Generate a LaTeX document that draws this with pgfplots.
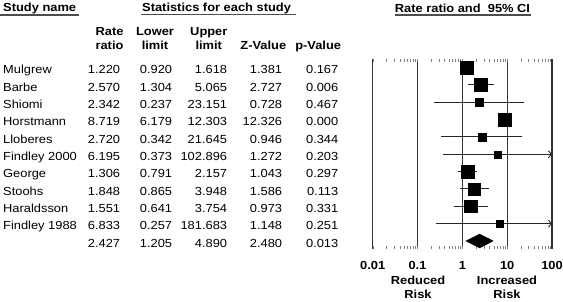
\documentclass[border=0pt]{standalone}
\usepackage{pgfplots}
\pgfplotsset{compat=1.18}
\usepackage{pgfplotstable}
\usepackage{fontspec}
\setmainfont[FakeStretch=1.1]{Liberation Sans}
\usetikzlibrary{arrows.meta}
\newcommand{\fs}{\fontsize{11.7}{14}\selectfont}

\pgfplotstableread{
idx name rr lo up z p w
1 Mulgrew 1.220 0.920 1.618 1.381 0.167 6.5
2 Barbe 2.570 1.304 5.065 2.727 0.006 6.2
3 Shiomi 2.342 0.237 23.151 0.728 0.467 4.0
4 Horstmann 8.719 6.179 12.303 12.326 0.000 6.5
5 Lloberes 2.720 0.342 21.645 0.946 0.344 4.1
6 {Findley 2000} 6.195 0.373 102.896 1.272 0.203 3.5
7 George 1.306 0.791 2.157 1.043 0.297 6.5
8 Stoohs 1.848 0.865 3.948 1.586 0.113 6.2
9 Haraldsson 1.551 0.641 3.754 0.973 0.331 6.2
10 {Findley 1988} 6.833 0.257 181.683 1.148 0.251 3.3
11 {} 2.427 1.205 4.890 2.480 0.013 0
}\studies

% confidence intervals (lower, upper) of the studies with both limits inside the axis
\pgfplotstableread{
x y
0.920 1
1.618 1
nan nan
1.304 2
5.065 2
nan nan
0.237 3
23.151 3
nan nan
6.179 4
12.303 4
nan nan
0.342 5
21.645 5
nan nan
0.791 7
2.157 7
nan nan
0.865 8
3.948 8
nan nan
0.641 9
3.754 9
}\ci

\begin{document}
\begin{tikzpicture}[every node/.append style={font=\fs}]
\path[use as bounding box] (0,0) rectangle (563pt,301pt);

% ---------- table part ----------
\begin{axis}[name=tab, at={(0pt,0pt)}, anchor=south west, scale only axis,
  width=563pt, height=301pt, xmin=0, xmax=563, ymin=0, ymax=301,
  y dir=reverse, hide axis, clip=false]
\pgfplotsset{colnode/.style={draw=none, mark=none, nodes near coords,
  point meta=explicit symbolic,
  nodes near coords style={anchor=base #1, inner sep=0pt, font=\fs, text=black}}}
\addplot[colnode=west] table[x expr=3, y expr={73.7+17.33*(\thisrow{idx}-1)}, meta=name]{\studies};
\addplot[colnode=east] table[x expr=120.3, y expr={73.7+17.33*(\thisrow{idx}-1)}, meta=rr]{\studies};
\addplot[colnode=east] table[x expr=172.3, y expr={73.7+17.33*(\thisrow{idx}-1)}, meta=lo]{\studies};
\addplot[colnode=east] table[x expr=227.3, y expr={73.7+17.33*(\thisrow{idx}-1)}, meta=up]{\studies};
\addplot[colnode=east] table[x expr=282.3, y expr={73.7+17.33*(\thisrow{idx}-1)}, meta=z]{\studies};
\addplot[colnode=east] table[x expr=338.5, y expr={73.7+17.33*(\thisrow{idx}-1)}, meta=p]{\studies};

% headers
\node[anchor=base west, inner sep=0pt] at (axis cs:3,11) {\bfseries Study name};
\node[anchor=base west, inner sep=0pt] at (axis cs:142,11) {\bfseries Statistics for each study};
\node[anchor=base, inner sep=0pt] at (axis cs:462.5,12) {\bfseries Rate ratio and\ \ 95\% CI};
\draw[black!70, line width=1.2pt] (axis cs:0,15) -- (axis cs:79,15);
\draw[black!70, line width=1.2pt] (axis cs:141,14.5) -- (axis cs:296,14.5);
\draw[black!70, line width=1.2pt] (axis cs:395,15) -- (axis cs:531,15);

\node[anchor=base, inner sep=0pt] at (axis cs:109.5,35.5) {\bfseries Rate};
\node[anchor=base, inner sep=0pt] at (axis cs:109.5,49) {\bfseries ratio};
\node[anchor=base, inner sep=0pt] at (axis cs:155,35.5) {\bfseries Lower};
\node[anchor=base, inner sep=0pt] at (axis cs:155,49) {\bfseries limit};
\node[anchor=base, inner sep=0pt] at (axis cs:208.8,35.5) {\bfseries Upper};
\node[anchor=base, inner sep=0pt] at (axis cs:208.8,49) {\bfseries limit};
\node[anchor=base, inner sep=0pt] at (axis cs:263.3,49) {\bfseries Z-Value};
\node[anchor=base, inner sep=0pt] at (axis cs:318.2,49) {\bfseries p-Value};

\node[anchor=base, inner sep=0pt] at (axis cs:418,284.5) {\bfseries Reduced};
\node[anchor=base, inner sep=0pt] at (axis cs:418,298.8) {\bfseries Risk};
\node[anchor=base, inner sep=0pt] at (axis cs:507,284.5) {\bfseries Increased};
\node[anchor=base, inner sep=0pt] at (axis cs:507,298.8) {\bfseries Risk};
\end{axis}

% ---------- forest plot ----------
\begin{axis}[at={(372.7pt,51.7pt)}, anchor=south west, scale only axis,
  width=179.3pt, height=190.3pt, xmode=log, xmin=0.01, xmax=100,
  ymin=0.51, ymax=11.48, y dir=reverse, clip=false,
  axis line style={draw=none}, ytick=\empty, major tick length=0pt,
  xtick={0.01,0.1,1,10,100},
  xticklabels={\bfseries 0.01,\bfseries 0.1,\bfseries 1,\bfseries 10,\bfseries 100},
  xticklabel style={anchor=base, inner sep=0pt, yshift=-20pt, font=\fs},
  xmajorgrids, grid style={black!80, line width=1.3pt}]
\addplot[black!85, line width=0.9pt, unbounded coords=jump, mark=none] table[x=x, y=y]{\ci};
\addplot[black!85, line width=0.9pt, mark=none, -{Straight Barb[length=3pt, width=7pt]}] coordinates {(0.373,6) (100,6)};
\addplot[black!85, line width=0.9pt, mark=none, -{Straight Barb[length=3pt, width=7pt]}] coordinates {(0.257,10) (100,10)};
\addplot[scatter, only marks, mark=square*, point meta=explicit,
  scatter/use mapped color={draw=black, fill=black},
  visualization depends on={\thisrow{w} \as \msize},
  scatter/@pre marker code/.append style={/tikz/mark size=\msize pt},
  skip coords between index={10}{11}]
  table[x=rr, y=idx, meta=w]{\studies};
\addplot[fill=black, draw=black, line width=0.4pt, mark=none] coordinates {(1.205,11) (2.427,10.6) (4.890,11) (2.427,11.4)} -- cycle;
\end{axis}
\end{tikzpicture}
\end{document}
